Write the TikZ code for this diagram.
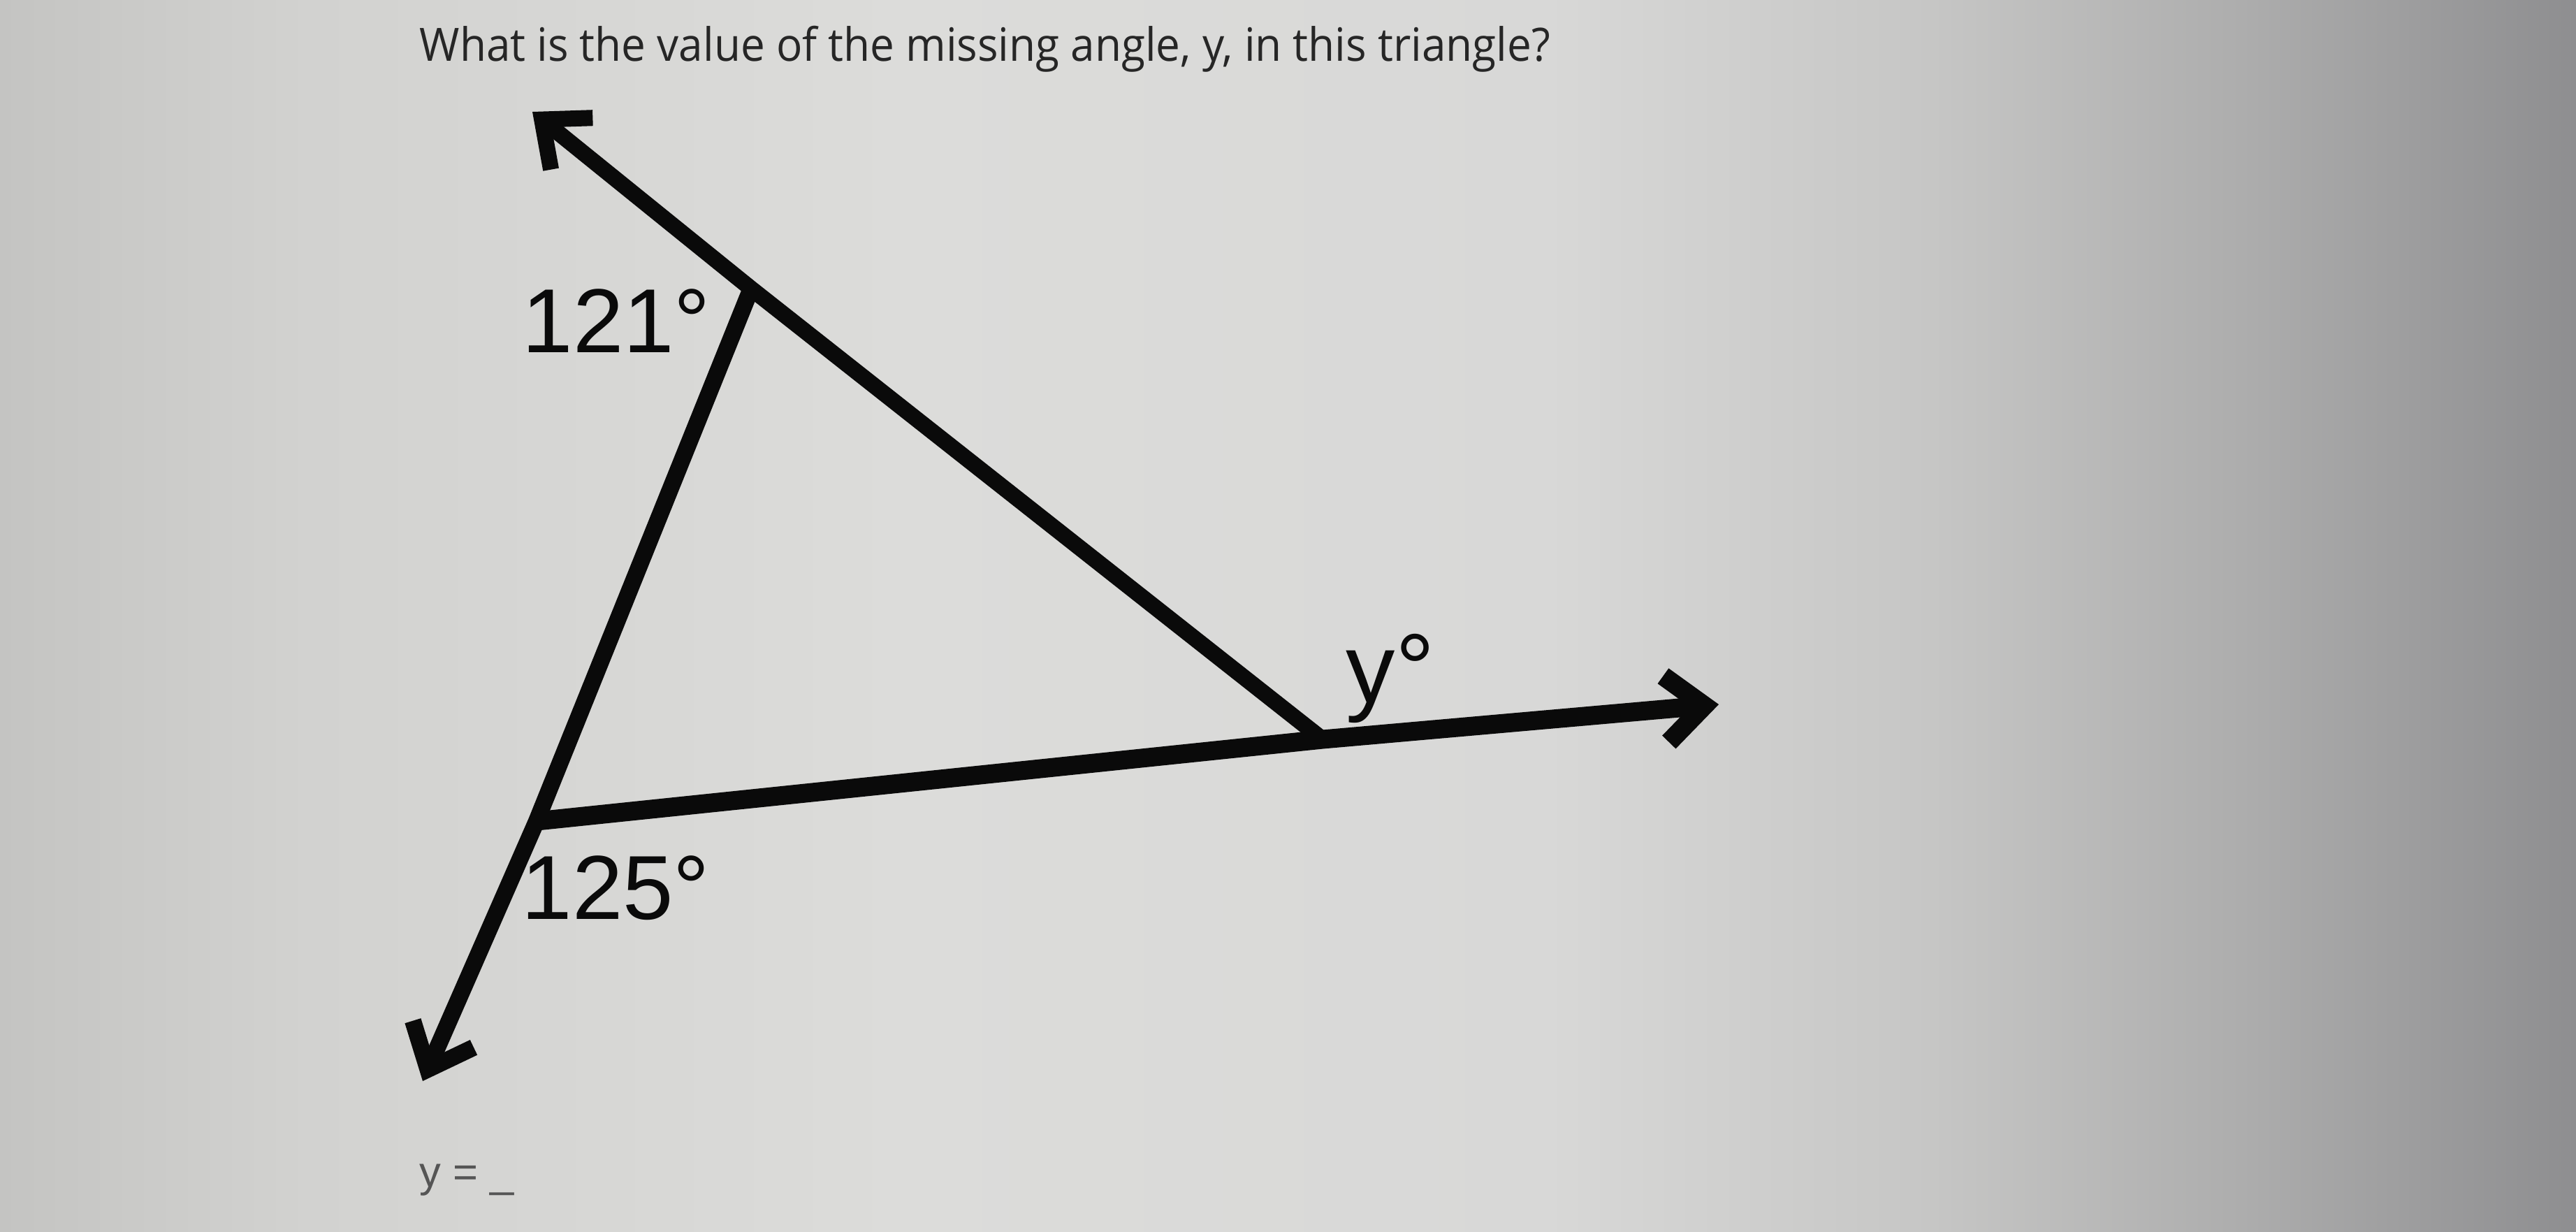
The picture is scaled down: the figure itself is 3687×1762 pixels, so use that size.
\documentclass[tikz,border=0pt]{standalone}
\usepackage{fontspec}
\setmainfont{Open Sans}
\newfontfamily\arialf{Liberation Sans}
\usetikzlibrary{arrows.meta}
\definecolor{bg0}{HTML}{C4C4C2}
\definecolor{bg1}{HTML}{D2D2D0}
\definecolor{bg2}{HTML}{DCDCDA}
\definecolor{bg3}{HTML}{D8D8D7}
\definecolor{bg4}{HTML}{C6C6C5}
\definecolor{bg5}{HTML}{ADADAD}
\definecolor{bg6}{HTML}{8E8E90}
\definecolor{titlecol}{HTML}{262626}
\definecolor{anscol}{HTML}{555555}
\definecolor{ink}{HTML}{0A0A0A}
\pgfdeclarehorizontalshading{bgshade}{100bp}{color(0bp)=(bg0); color(25bp)=(bg0); color(31bp)=(bg1); color(42.5bp)=(bg2); color(55bp)=(bg3); color(62.5bp)=(bg4); color(68.5bp)=(bg5); color(75bp)=(bg6); color(100bp)=(bg6)}
\tikzset{
  seg/.style={draw=ink, line cap=butt, line join=miter},
  ray/.style={seg, -{Straight Barb[length=0.55cm,width=0.95cm]}},
  lab/.style={inner sep=0pt, anchor=base west, text=ink},
}
\begin{document}
\begin{tikzpicture}[x=0.01cm, y=-0.01cm]
\shade[shading=bgshade] (0,0) rectangle (3687,1762);
\useasboundingbox (0,0) rectangle (3687,1762);
% vertices and arrow tips
\coordinate (A) at (1075,413);
\coordinate (B) at (1893,1058);
\coordinate (C) at (768,1175);
\coordinate (tipTL) at (762,160);
\coordinate (tipBL) at (605,1547);
\coordinate (tipR) at (2460,1008);
% lines
\draw[ray, line width=0.24cm] (A) -- (C) -- (tipBL);
\draw[ray, line width=0.23cm] (B) -- (A) -- (tipTL);
\draw[ray, line width=0.27cm] (C) -- (B) -- (tipR);
% labels
\node[lab, font=\arialf\fontsize{37}{40}\selectfont] (l121) at (747,504) {121°};
\node[lab, font=\arialf\fontsize{37}{40}\selectfont] (l125) at (746,1315) {125°};
\node[lab, font=\arialf\fontsize{40}{44}\selectfont] (ly) at (1926,1005) {y°};
% title and answer
\node[inner sep=0pt, anchor=base west, text=titlecol, font=\fontsize{18.7}{22}\selectfont] (title) at (600,87) {\resizebox{16.17cm}{\height}{What is the value of the missing angle, y, in this triangle?}};
\node[inner sep=0pt, anchor=base west, text=anscol, font=\arialf\fontsize{17.5}{20}\selectfont] (ans) at (600,1698) {y = \_};
\end{tikzpicture}
\end{document}
